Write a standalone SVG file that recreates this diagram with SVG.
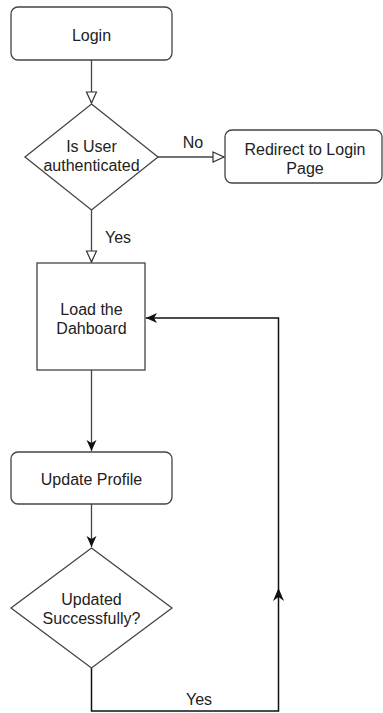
<svg xmlns="http://www.w3.org/2000/svg" width="383" height="713" viewBox="0 0 383 713">
<defs>
<marker id="hollow" markerWidth="14" markerHeight="14" refX="12" refY="6" orient="auto" markerUnits="userSpaceOnUse">
<path d="M1,1 L12,6 L1,11 Z" fill="#fff" stroke="#333" stroke-width="1.2"/>
</marker>
<marker id="filled" markerWidth="14" markerHeight="14" refX="11" refY="6" orient="auto" markerUnits="userSpaceOnUse">
<path d="M0,1 L11,6 L0,11 L3,6 Z" fill="#111" stroke="none"/>
</marker>
</defs>
<style>
.n{fill:#fff;stroke:#444;stroke-width:1.3}
.t{font-family:"Liberation Sans",Arial,sans-serif;font-size:16px;fill:#222;text-anchor:middle}
.e{fill:none;stroke:#444;stroke-width:1.3}
.k{fill:none;stroke:#111;stroke-width:1.5}
</style>
<rect width="383" height="713" fill="#fff"/>
<g id="connectors">
<path class="e" d="M91.5,60 V103" marker-end="url(#hollow)"/>
<path class="e" d="M158,157 H224" marker-end="url(#hollow)"/>
<path class="e" d="M91.5,210 V262" marker-end="url(#hollow)"/>
<path class="e" d="M91.5,370 V451" marker-end="url(#filled)"/>
<path class="e" d="M91.5,504 V547" marker-end="url(#filled)"/>
<path class="k" d="M91.5,668 V711 H278.5 V318 H146" marker-end="url(#filled)"/>
<path d="M278.5,588 L284,601 L278.5,597 L273,601 Z" fill="#111"/>
<text class="t" x="193" y="148">No</text>
<text class="t" x="118" y="243">Yes</text>
<text class="t" x="199" y="705">Yes</text>
</g>
<g id="login">
<rect class="n" x="11" y="7" width="161" height="53" rx="7"/>
<text class="t" x="91.5" y="41">Login</text>
</g>
<g id="auth">
<path class="n" d="M91.5,104 L158,157 L91.5,210 L25,157 Z"/>
<text class="t" x="91.5" y="152">Is User</text>
<text class="t" x="91.5" y="171">authenticated</text>
</g>
<g id="redirect">
<rect class="n" x="225" y="130" width="157" height="53" rx="7"/>
<text class="t" x="305" y="155">Redirect to Login</text>
<text class="t" x="305" y="174">Page</text>
</g>
<g id="dashboard">
<rect class="n" x="37" y="263" width="108" height="107"/>
<text class="t" x="91.5" y="315">Load the</text>
<text class="t" x="91.5" y="334">Dahboard</text>
</g>
<g id="update">
<rect class="n" x="11" y="452" width="161" height="52" rx="7"/>
<text class="t" x="91.5" y="485">Update Profile</text>
</g>
<g id="success">
<path class="n" d="M91.5,548 L172,608 L91.5,668 L11,608 Z"/>
<text class="t" x="91.5" y="605">Updated</text>
<text class="t" x="91.5" y="624">Successfully?</text>
</g>
</svg>
